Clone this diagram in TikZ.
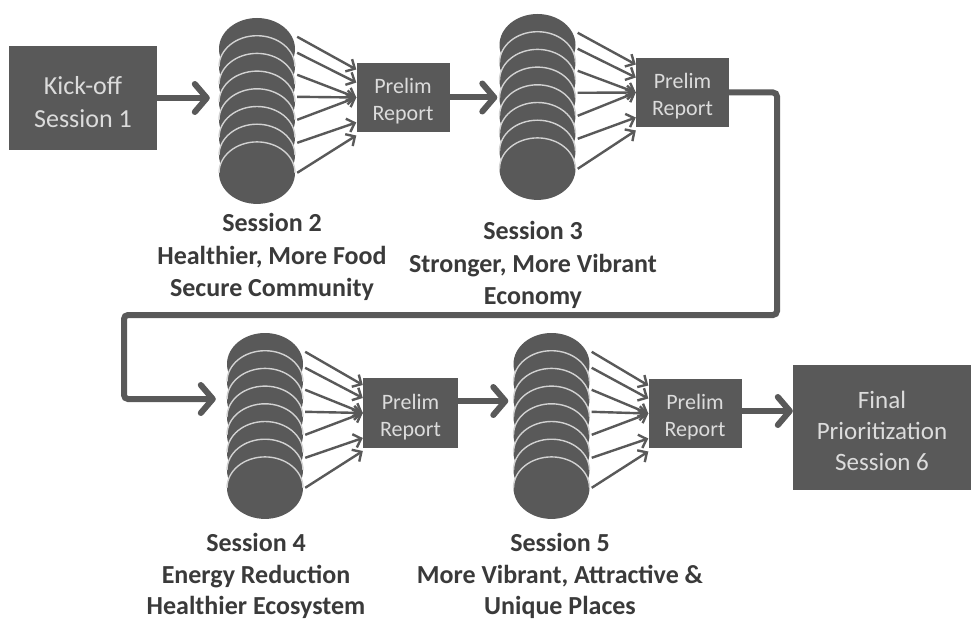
\documentclass[tikz,border=0pt]{standalone}
\usepackage{fontspec}
\setmainfont{Carlito}
\usetikzlibrary{arrows.meta,calc}
\definecolor{boxgray}{HTML}{595959}
\definecolor{boxtext}{HTML}{DCDCDC}
\definecolor{labgray}{HTML}{3A3A3A}
\definecolor{rimgray}{HTML}{D2D2D2}
\newcommand\discstack[3]{% name, cx, top
  \foreach \i in {0,...,7}{
    \pgfmathsetmacro\cy{-(#3+31+17.7*\i)}
    \fill[boxgray] (#2,\cy) ellipse (38pt and 31pt);
    \ifnum\i>0 \draw[rimgray, line width=1.4pt] (#2-38,\cy) arc (180:0:38pt and 31pt);\fi
  }
  \node[stacknode] (#1) at (#2,{-(#3+93)}) {};
}
\newcommand\fanarrows[2]{% stack, box
  \foreach \s/\e in {19/-28,35/-15,57/0,79/0,102/0,125/25,155/38}{
    \draw[thinarrow] ($(#1.north east)+(2,-\s)$) -- ($(#2.west)+(0,-\e)$);
  }
}
\begin{document}
\begin{tikzpicture}[x=1pt,y=1pt,
  darkbox/.style={fill=boxgray, draw=none, inner sep=0pt},
  intext/.style={text=boxtext, align=center, inner sep=0pt, yshift=-4pt},
  prelim/.style={darkbox, minimum width=93pt, minimum height=69pt},
  prelimtext/.style={intext, font=\fontsize{22}{27}\selectfont},
  bigtext/.style={intext, font=\fontsize{26}{33}\selectfont},
  sesslabel/.style={text=labgray, align=center, font=\bfseries\fontsize{26}{32.5}\selectfont},
  lowlabel/.style={sesslabel, font=\bfseries\fontsize{26}{31.5}\selectfont},
  bigarrow/.style={draw=boxgray, line width=6pt, -{Straight Barb[length=12pt,width=28pt,round]}},
  thinarrow/.style={draw=boxgray, line width=2.4pt, -{Straight Barb[length=7pt,width=14pt]}},
  stacknode/.style={inner sep=0pt, minimum width=76pt, minimum height=186pt},
]
\useasboundingbox (0,0) rectangle (979,-623);
\fill[white] (0,0) rectangle (979,-623);

% stacks
\discstack{s2}{257}{18}
\discstack{s3}{537.5}{14}
\discstack{s4}{265}{333}
\discstack{s5}{551.5}{333}

% boxes
\node[darkbox, minimum width=148pt, minimum height=104pt,
  label={[bigtext]center:{Kick-off\\Session 1}}] (k) at (83,-98) {};
\node[prelim, label={[prelimtext]center:{Prelim\\Report}}] (p1) at (403,-97.5) {};
\node[prelim, label={[prelimtext]center:{Prelim\\Report}}] (p2) at (682.5,-92.5) {};
\node[prelim, minimum width=95pt, minimum height=70pt,
  label={[prelimtext]center:{Prelim\\Report}}] (p3) at (410.5,-413) {};
\node[prelim, label={[prelimtext]center:{Prelim\\Report}}] (p4) at (695,-413.5) {};
\node[darkbox, minimum width=178pt, minimum height=125pt,
  label={[intext, yshift=1pt, font=\fontsize{25}{31}\selectfont]center:{Final\\Prioritization\\Session 6}}] (f) at (882,-427.5) {};

% fan arrows
\fanarrows{s2}{p1}
\fanarrows{s3}{p2}
\fanarrows{s4}{p3}
\fanarrows{s5}{p4}

% thick connectors
\draw[bigarrow, shorten >=9pt] (k.east) -- (k.east -| s2.west);
\draw[bigarrow, shorten >=2pt] (p1.east) -- (p1.east -| s3.west);
\coordinate (b1) at (777,-92.5);
\coordinate (b2) at (777,-315);
\coordinate (b3) at (124,-315);
\coordinate (b4) at (124,-399);
\draw[bigarrow, rounded corners=4pt, shorten >=11pt] (p2.east) -- (b1) -- (b2) -- (b3) -- (b4) -- (b4 -| s4.west);
\coordinate (c1) at ($(p3.east)+(0,12)$);
\draw[bigarrow, shorten >=5pt] (c1) -- (c1 -| s5.west);
\coordinate (c2) at ($(p4.east)+(0,2.5)$);
\draw[bigarrow] (c2) -- (c2 -| f.west);

% labels
\node[sesslabel] (l2) at (272,-257) {Session 2\\Healthier, More Food\\Secure Community};
\node[sesslabel] (l3) at (533,-265) {Session 3\\Stronger, More Vibrant\\Economy};
\node[lowlabel] (l4) at (256,-576) {Session 4\\Energy Reduction\\Healthier Ecosystem};
\node[lowlabel] (l5) at (560,-576) {Session 5\\More Vibrant, Attractive \&\\Unique Places};
\end{tikzpicture}
\end{document}
